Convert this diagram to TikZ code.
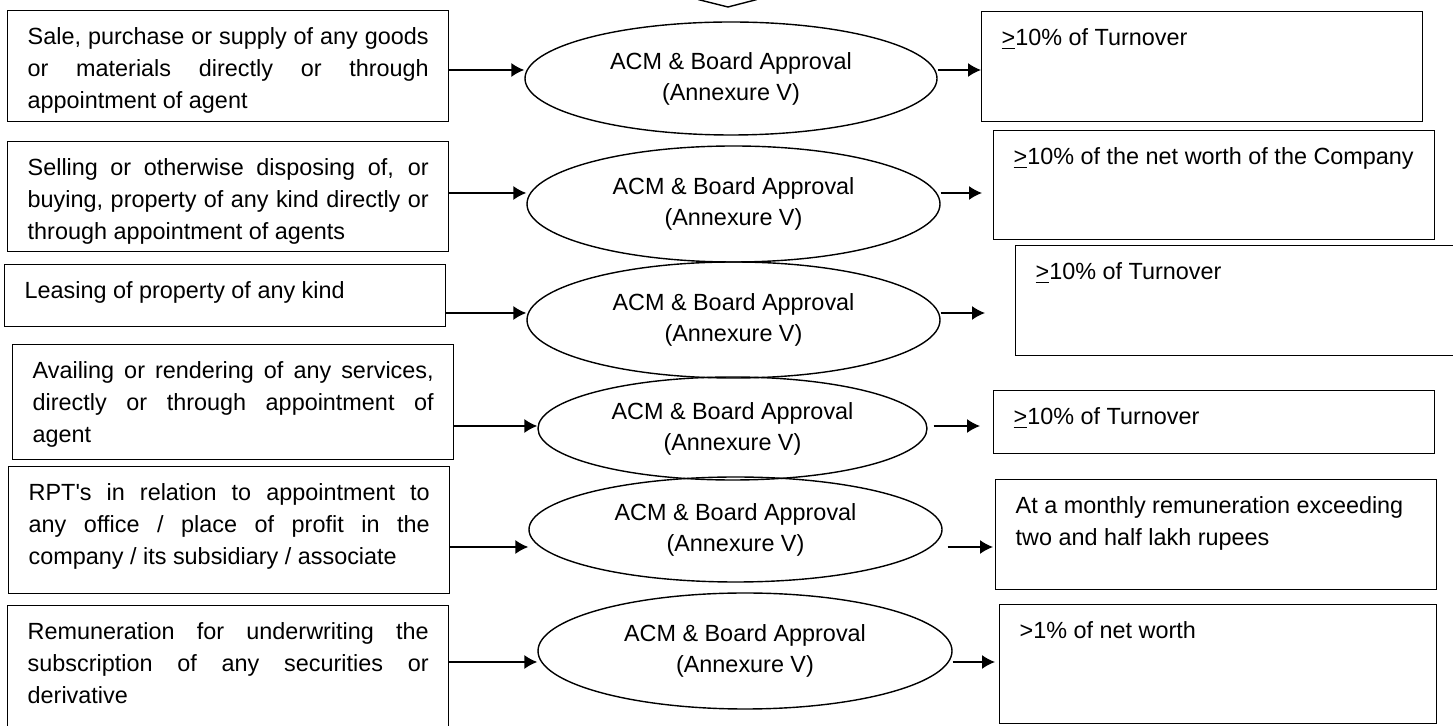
\documentclass[tikz,border=0pt]{standalone}
\usepackage{fontspec}
\setmainfont{Liberation Sans}
\usetikzlibrary{arrows.meta,shapes.geometric}

\newcommand{\cellbox}[3]{\parbox[t][#1][t]{#2}{\vspace*{8.5pt}#3}}
\newcommand{\ulgt}{\underline{>}}

\begin{document}
\begin{tikzpicture}[x=0.5pt,y=-0.5pt,line width=0.7pt,
  font=\fontsize{11.7}{16}\selectfont,
  >={Latex[length=6.5pt,width=7pt]},
  item/.style={draw,anchor=north west,inner xsep=10pt,inner ysep=0pt},
  approval/.style={draw,ellipse,inner sep=0pt,align=center,font=\fontsize{11.7}{15.5}\selectfont}]
\useasboundingbox (0,0) rectangle (1453,726);

% tip of the arrow coming from above
\draw (698,-0.5) -- (728,7) -- (757,-0.5);

% transactions
\node[item] (L1) at (7,10) {\cellbox{55.5pt}{200.5pt}{Sale, purchase or supply of any goods\linebreak or materials directly or through\linebreak appointment of agent}};
\node[item] (L2) at (7,141) {\cellbox{55pt}{200.5pt}{Selling or otherwise disposing of, or\linebreak buying, property of any kind directly or\linebreak through appointment of agents}};
\node[item] (L3) at (4,264) {\cellbox{31pt}{200.5pt}{Leasing of property of any kind}};
\node[item] (L4) at (12,344) {\cellbox{57.5pt}{200.5pt}{Availing or rendering of any services,\linebreak directly or through appointment of\linebreak agent}};
\node[item] (L5) at (8,466) {\cellbox{63.5pt}{200.5pt}{RPT\textquotesingle s in relation to appointment to\linebreak any office / place of profit in the\linebreak company / its subsidiary / associate}};
\node[item] (L6) at (7,605) {\cellbox{62pt}{200.5pt}{Remuneration for underwriting the\linebreak subscription of any securities or\linebreak derivative}};

% approvals
\node[approval,minimum width=206pt,minimum height=56.5pt] (E1) at (731,78.5) {ACM \& Board Approval\\(Annexure V)};
\node[approval,minimum width=206.5pt,minimum height=58pt] (E2) at (733.5,204) {ACM \& Board Approval\\(Annexure V)};
\node[approval,minimum width=206.5pt,minimum height=58pt] (E3) at (733.5,320) {ACM \& Board Approval\\(Annexure V)};
\node[approval,minimum width=194.5pt,minimum height=51.5pt] (E4) at (732.5,428.5) {ACM \& Board Approval\\(Annexure V)};
\node[approval,minimum width=206.5pt,minimum height=52.5pt] (E5) at (735.5,529.5) {ACM \& Board Approval\\(Annexure V)};
\node[approval,minimum width=207pt,minimum height=58pt] (E6) at (745,651) {ACM \& Board Approval\\(Annexure V)};

% thresholds
\node[item] (R1) at (981,11) {\cellbox{55pt}{200.5pt}{\ulgt10\% of Turnover}};
\node[item] (R2) at (993,130) {\cellbox{54.5pt}{200.5pt}{\mbox{\ulgt10\% of the net worth of the Company}}};
\node[item] (R3) at (1015,245) {\cellbox{55pt}{200.5pt}{\ulgt10\% of Turnover}};
\node[item] (R4) at (993,390) {\cellbox{31.5pt}{200.5pt}{\ulgt10\% of Turnover}};
\node[item] (R5) at (995,479) {\cellbox{55pt}{200.5pt}{At a monthly remuneration exceeding\\two and half lakh rupees}};
\node[item] (R6) at (999,604) {\cellbox{59.5pt}{198.5pt}{>1\% of net worth}};

% row levels of the arrows
\coordinate (r1) at (0,70);
\coordinate (r2) at (0,193);
\coordinate (r3) at (0,313);
\coordinate (r4) at (0,426);
\coordinate (r5) at (0,547);
\coordinate (r6) at (0,662);

\draw[->] (L1.east |- r1) -- (E1.west |- r1);
\draw[->] (E1.east |- r1) -- (R1.west |- r1);
\draw[->] (L2.east |- r2) -- (E2.west |- r2);
\draw[->,shorten >=5.5pt] (E2.east |- r2) -- (R2.west |- r2);
\draw[->] (L3.east |- r3) -- (E3.west |- r3);
\draw[->,shorten >=15pt] (E3.east |- r3) -- (R3.west |- r3);
\draw[->] (L4.east |- r4) -- (E4.west |- r4);
\draw[->,shorten <=3pt,shorten >=6.5pt] (E4.east |- r4) -- (R4.west |- r4);
\draw[->] (L5.east |- r5) -- (E5.west |- r5);
\draw[->,shorten <=2.5pt,shorten >=1pt] (E5.east |- r5) -- (R5.west |- r5);
\draw[->] (L6.east |- r6) -- (E6.west |- r6);
\draw[->,shorten >=2pt] (E6.east |- r6) -- (R6.west |- r6);
\end{tikzpicture}
\end{document}
